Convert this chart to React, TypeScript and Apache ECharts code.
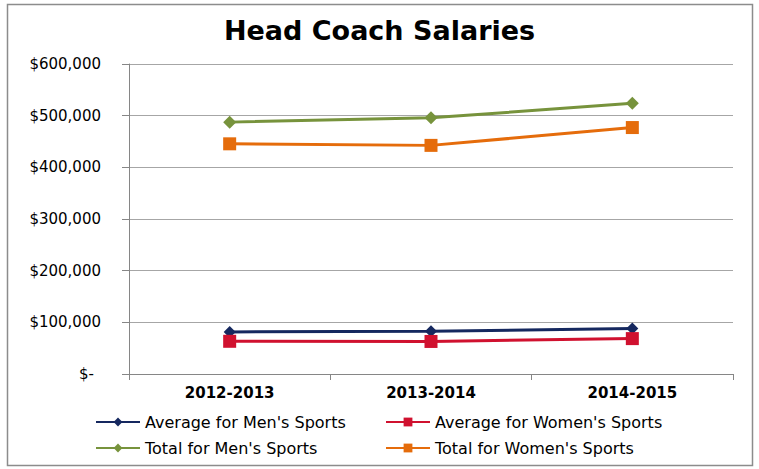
import React, { useEffect, useRef } from "react";
import * as echarts from "echarts";

const categories = ["2012-2013", "2013-2014", "2014-2015"];
const avgMen = [81500, 82900, 88000];
const avgWomen = [63300, 63000, 68500];
const totalMen = [487500, 495800, 523800];
const totalWomen = [445500, 442500, 477000];

const FONT = "'DejaVu Sans', sans-serif";

export default function App() {
  const ref = useRef<HTMLDivElement>(null);
  useEffect(() => {
    document.body.style.margin = "0";
    const chart = echarts.init(ref.current!, null, { renderer: "svg" });
    const fmt = (v: number) =>
      v === 0 ? "{z|$-}" : "$" + v.toLocaleString("en-US");
    const mk = (name: string, data: number[], color: string, symbol: string, size: number) => ({
      name,
      type: "line",
      data,
      symbol,
      symbolSize: size,
      lineStyle: { color, width: 3 },
      itemStyle: { color, borderColor: color, borderWidth: 0 },
    });
    const legendBase = {
      itemWidth: 44,
      itemHeight: 11,
      padding: 0,
      textStyle: { fontFamily: FONT, fontSize: 16, color: "#000" },
      orient: "horizontal",
      itemGap: 4,
    };
    chart.setOption({
      animation: false,
      backgroundColor: "#fff",
      title: {
        text: "Head Coach Salaries",
        left: "center",
        top: 12,
        textStyle: { fontFamily: FONT, fontSize: 27, fontWeight: "bold", color: "#000" },
      },
      graphic: [
        {
          type: "rect",
          shape: { x: 7.5, y: 4.5, width: 745, height: 461 },
          style: { fill: "none", stroke: "#8c8c8c", lineWidth: 1.5 },
          silent: true,
        },
      ],
      grid: { left: 129, right: 26, top: 64, bottom: 95, containLabel: false },
      xAxis: {
        type: "category",
        data: categories,
        boundaryGap: true,
        axisLine: { lineStyle: { color: "#868686", width: 1 } },
        axisTick: { show: true, length: 6, alignWithLabel: false, lineStyle: { color: "#868686" } },
        axisLabel: {
          margin: 11,
          fontFamily: FONT,
          fontSize: 15,
          fontWeight: "bold",
          color: "#000",
        },
      },
      yAxis: {
        type: "value",
        min: 0,
        max: 600000,
        interval: 100000,
        axisLine: { show: true, lineStyle: { color: "#868686", width: 1 } },
        axisTick: { show: true, length: 7, inside: false, lineStyle: { color: "#868686" } },
        splitLine: { show: true, lineStyle: { color: "#a6a6a6", width: 1 } },
        axisLabel: {
          margin: 28,
          fontFamily: FONT,
          fontSize: 15,
          color: "#000",
          formatter: fmt,
          rich: { z: { fontFamily: FONT, fontSize: 15, color: "#000", padding: [0, 7, 0, 0] } },
        },
      },
      legend: [
        { ...legendBase, left: 95, top: 414, data: ["Average for Men's Sports"] },
        { ...legendBase, left: 385, top: 414, data: ["Average for Women's Sports"] },
        { ...legendBase, left: 95, top: 440, data: ["Total for Men's Sports"] },
        { ...legendBase, left: 385, top: 440, data: ["Total for Women's Sports"] },
      ],
      series: [
        mk("Average for Men's Sports", avgMen, "#15285f", "diamond", 12),
        mk("Average for Women's Sports", avgWomen, "#d0112f", "rect", 13),
        mk("Total for Men's Sports", totalMen, "#77933c", "diamond", 13),
        mk("Total for Women's Sports", totalWomen, "#e56c0b", "rect", 13),
      ],
    });
    return () => chart.dispose();
  }, []);
  return <div ref={ref} style={{ width: 759, height: 469 }} />;
}
